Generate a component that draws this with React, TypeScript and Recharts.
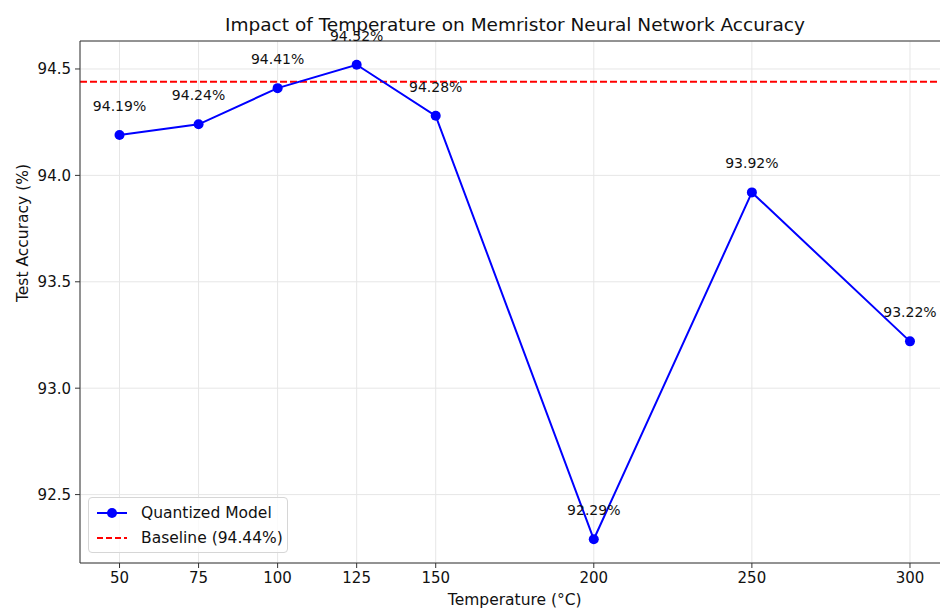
import { CartesianGrid, LabelList, Line, LineChart, ReferenceLine, XAxis, YAxis } from "recharts";

const temperatures = [50, 75, 100, 125, 150, 200, 250, 300];
const accuracy = [94.19, 94.24, 94.41, 94.52, 94.28, 92.29, 93.92, 93.22];
const xTicks = [50, 75, 100, 125, 150, 200, 250, 300];
const yTicks = [92.5, 93.0, 93.5, 94.0, 94.5];
const baseline = 94.44;

const data = temperatures.map((t, i) => ({ temp: t, acc: accuracy[i] }));

const FONT = "DejaVu Sans, sans-serif";
const X_DOMAIN = [37.5, 312.5];
const Y_DOMAIN = [92.1785, 94.6315];

const PointLabel = (props: any) => {
  const { x, y, value } = props;
  return (
    <text x={x} y={y - 24} textAnchor="middle" fontSize={14} fontFamily={FONT} fill="#111">
      {value.toFixed(2)}%
    </text>
  );
};

const LegendBox = () => (
  <div
    style={{
      position: "absolute",
      left: 88,
      top: 497,
      width: 200,
      height: 56,
      border: "1px solid #d6d6d6",
      borderRadius: 4,
      background: "rgba(255,255,255,0.8)",
      fontFamily: FONT,
      fontSize: 15.5,
      color: "#111",
      boxSizing: "border-box",
      padding: "3px 0 0 6px",
    }}
  >
    <div style={{ display: "flex", alignItems: "center", height: 24 }}>
      <svg width={34} height={12}>
        <line x1={2} y1={6} x2={32} y2={6} stroke="#0000ff" strokeWidth={2} />
        <circle cx={17} cy={6} r={5} fill="#0000ff" />
      </svg>
      <span style={{ marginLeft: 12 }}>Quantized Model</span>
    </div>
    <div style={{ display: "flex", alignItems: "center", height: 26 }}>
      <svg width={34} height={12}>
        <line x1={2} y1={6} x2={32} y2={6} stroke="#ff0000" strokeWidth={2} strokeDasharray="6 3" />
      </svg>
      <span style={{ marginLeft: 12 }}>Baseline (94.44%)</span>
    </div>
  </div>
);

export default function App() {
  return (
    <div style={{ position: "absolute", left: 0, top: 0, width: 940, height: 610, overflow: "hidden", background: "#fff" }}>
      <LineChart width={960} height={610} data={data} margin={{ top: 41, right: 10.5, left: 0, bottom: 0 }}>
        <CartesianGrid stroke="#e6e6e6" strokeWidth={1} />
        <XAxis
          dataKey="temp"
          type="number"
          domain={X_DOMAIN}
          ticks={xTicks}
          allowDataOverflow
          height={47}
          stroke="#333"
          tickSize={5}
          tickMargin={4}
          tick={{ fontSize: 15, fontFamily: FONT, fill: "#111" }}
          label={{ value: "Temperature (°C)", position: "insideBottom", offset: 5, fontSize: 15.5, fontFamily: FONT, fill: "#111" }}
        />
        <YAxis
          type="number"
          domain={Y_DOMAIN}
          ticks={yTicks}
          allowDataOverflow
          width={80}
          stroke="#333"
          tickSize={5}
          tickMargin={4}
          tickFormatter={(v: number) => v.toFixed(1)}
          tick={{ fontSize: 15, fontFamily: FONT, fill: "#111" }}
          label={{ value: "Test Accuracy (%)", angle: -90, position: "insideLeft", offset: 22, fontSize: 15.5, fontFamily: FONT, fill: "#111" }}
        />
        <ReferenceLine y={Y_DOMAIN[1]} stroke="#333" strokeWidth={1} ifOverflow="visible" />
        <ReferenceLine x={X_DOMAIN[1]} stroke="#333" strokeWidth={1} ifOverflow="visible" />
        <ReferenceLine y={baseline} stroke="#ff0000" strokeWidth={2} strokeDasharray="7 3" />
        <Line
          dataKey="acc"
          stroke="#0000ff"
          strokeWidth={2}
          dot={{ r: 5, fill: "#0000ff", stroke: "#0000ff", strokeWidth: 0 }}
          activeDot={false}
          isAnimationActive={false}
        >
          <LabelList dataKey="acc" content={<PointLabel />} />
        </Line>
        <text x={515} y={31} textAnchor="middle" fontSize={18.5} fontFamily={FONT} fill="#111">
          Impact of Temperature on Memristor Neural Network Accuracy
        </text>
      </LineChart>
      <LegendBox />
    </div>
  );
}
